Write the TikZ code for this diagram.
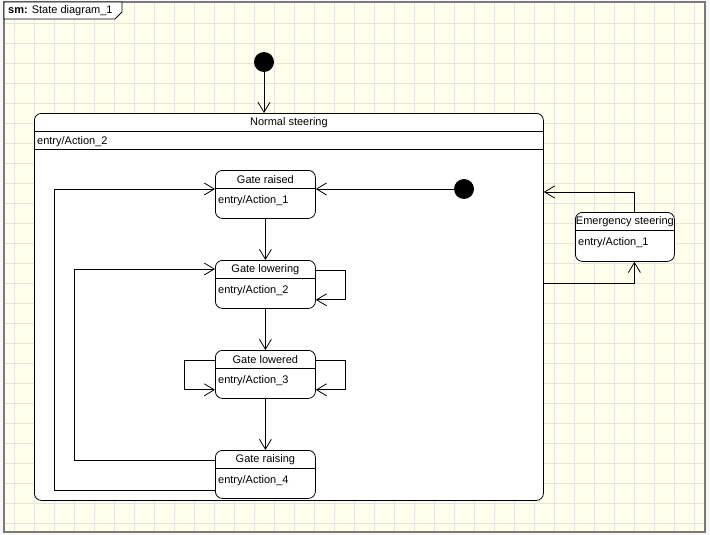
\documentclass[tikz,border=0pt]{standalone}
\usepackage{fontspec}
\setmainfont{Liberation Sans}
\usetikzlibrary{arrows.meta,calc}
\definecolor{bgy}{HTML}{FFFFEC}
\definecolor{gridc}{HTML}{E4E4E4}
\definecolor{framec}{HTML}{7A7A7A}
\definecolor{outc}{HTML}{F7F7F7}
\tikzset{
  statebox/.style={draw, fill=white, rounded corners=7pt, inner sep=0pt, line width=0.8pt},
  arr/.style={-{Straight Barb[length=10pt,width=12pt]}, line width=0.8pt},
  txt/.style={inner sep=0pt, font=\fontsize{11}{13}\selectfont},
  initdot/.style={circle, fill=black, minimum size=20pt, inner sep=0pt},
}
\newcommand\mkstate[7]{%
  \node[statebox, minimum width=#4pt, minimum height=#5pt, anchor=north west] (#1) at (#2,#3) {};
  \draw[line width=0.8pt] ([yshift=-18pt]#1.north west) -- ([yshift=-18pt]#1.north east);
  \node[txt] (#1t) at ([yshift=-9.5pt]#1.north) {#6};
  \node[txt, anchor=west] (#1e) at ([xshift=3pt,yshift=-30.5pt]#1.north west) {#7};
}
\begin{document}
\begin{tikzpicture}[x=1pt,y=-1pt]
\useasboundingbox (0,0) rectangle (710,535);
\fill[outc] (0,0) rectangle (710,535);
\fill[bgy] (4,2) rectangle (705,532);
\foreach \x in {14,34,...,694} \draw[gridc, line width=0.8pt] (\x,2) -- (\x,532);
\foreach \y in {23,43,...,523} \draw[gridc, line width=0.8pt] (4,\y) -- (705,\y);
\draw[framec, line width=1.5pt] (4,2) rectangle (705,532);
% frame tab
\draw[fill=white, line width=0.8pt] (4,2) -- (122,2) -- (122,12) -- (115,19) -- (4,19) -- cycle;
\node[txt, anchor=west] (tab) at (8,11) {\textbf{sm:} State diagram\_1};

% Normal steering composite state
\node[statebox, minimum width=509pt, minimum height=387pt, anchor=north west] (ns) at (34,113) {};
\draw[line width=0.8pt] ([yshift=-18pt]ns.north west) -- ([yshift=-18pt]ns.north east);
\draw[line width=0.8pt] ([yshift=-36pt]ns.north west) -- ([yshift=-36pt]ns.north east);
\node[txt] (nst) at ([yshift=-9.5pt]ns.north) {Normal steering};
\node[txt, anchor=west] (nse) at ([xshift=3pt,yshift=-29pt]ns.north west) {entry/Action\_2};

% substates
\mkstate{gr}{215}{170}{100}{48}{Gate raised}{entry/Action\_1}
\mkstate{gl}{215}{260}{100}{48}{Gate lowering}{entry/Action\_2}
\mkstate{gd}{215}{350}{100}{48}{Gate lowered}{entry/Action\_3}
\mkstate{gs}{215}{450}{100}{48}{Gate raising}{entry/Action\_4}
\mkstate{em}{575}{212}{99}{49}{Emergency steering}{entry/Action\_1}

% initial pseudostates
\node[initdot] (i1) at (264,62) {};
\node[initdot] (i2) at (464,189) {};

% transitions
\draw[arr] (i1) -- (i1 |- ns.north);
\draw[arr] (i2) -- (i2 -| gr.east);
\draw[arr] (gr.south) -- (gl.north);
\draw[arr] (gl.south) -- (gd.north);
\draw[arr] (gd.south) -- (gs.north);
\draw[arr] ([yshift=-10pt]gl.north east) -- ++(30,0) |- ([yshift=9pt]gl.south east);
\draw[arr] ([yshift=-10pt]gd.north east) -- ++(30,0) |- ([yshift=9pt]gd.south east);
\draw[arr] ([yshift=-10pt]gd.north west) -- ++(-31,0) |- ([yshift=9pt]gd.south west);
\draw[arr] ([yshift=-10pt]gs.north west) -- ++(-141,0) |- ([yshift=-9pt]gl.north west);
\draw[arr] ([yshift=8pt]gs.south west) -- ++(-161,0) |- ([yshift=-19pt]gr.north west);
\draw[arr] ([yshift=-170pt]ns.north east) -| ([xshift=9.5pt]em.south);
\draw[arr] ([xshift=9.5pt]em.north) |- ([yshift=-79pt]ns.north east);
\end{tikzpicture}
\end{document}
